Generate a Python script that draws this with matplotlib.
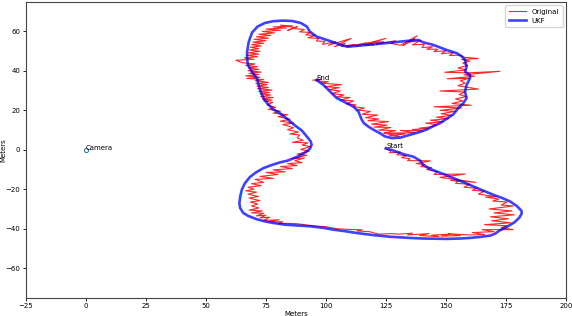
import matplotlib
matplotlib.use("Agg")
import matplotlib.pyplot as plt

# UKF (smoothed) trajectory, metres
ukf_x = [125.0, 129.5, 133, 136.4, 139.2, 140.5, 143, 146.1, 150, 153, 157, 161.4, 165.5, 169.7, 173.5,
         176.7, 179.5, 181.5, 181.5, 180.5, 178.5, 175.5, 172.5, 170.5, 168.5, 164.2, 160, 155.8, 150.3,
         144.7, 140.5, 135, 130.8, 126.7, 120, 112.8, 108, 103, 98.9, 93.3, 87.8, 83, 78, 74.5, 71.1,
         67.5, 65.5, 64.2, 63.9, 64.3, 64.9, 66.2, 68.3, 70.8, 73.9, 77.2, 80.8, 84, 88.5, 91.5, 93.3,
         94, 93.6, 92.3, 89.9, 87.2, 84, 80.5, 78, 75.5, 74, 72.8, 71.9, 71.3, 69.2, 67.5, 67.1, 67.1,
         67.8, 69.2, 71.5, 74.5, 78, 82, 86, 89.5, 92, 93.3, 96.1, 100.3, 104.5, 107, 109.3, 112.8,
         119.7, 126.7, 133.6, 138.5, 140.5, 144.7, 150.3, 154.5, 156.8, 157.9, 158.6, 157.9, 160, 160,
         158.6, 157.9, 158.6, 157.2, 155.1, 153, 150, 147.5, 144.7, 142, 139, 135, 131, 127.5, 124.5,
         122.5, 120, 117.6, 115.8, 114.9, 113.5, 111.4, 107.2, 104.5, 101.7, 98.9, 96.1]
ukf_y = [0.8, -1.0, -2.5, -3.5, -5.5, -7.6, -9.5, -11, -12.8, -14.3, -16.3, -18.6, -20.7, -22.8, -24.5,
         -26.2, -28.5, -31, -32.5, -34.5, -36.8, -39, -40.8, -42.5, -43.5, -44.2, -44.7, -45, -45.2,
         -45.1, -45, -44.7, -44.4, -44.1, -43.3, -42.2, -41.3, -40.5, -39.6, -38.8, -38.4, -38, -37.1,
         -36.3, -35.2, -33.5, -32, -29.5, -27, -23.5, -20.3, -17, -13.8, -11.5, -9.3, -7.8, -6.4, -5.5,
         -3.3, -1.2, 0.5, 2.5, 4.3, 6.3, 9.8, 12.2, 15.5, 18.8, 20.5, 23.5, 26, 29.5, 33, 36.1, 39.5,
         43, 46.2, 49.6, 54.7, 59.5, 62.5, 64.3, 65.2, 65.5, 65.3, 64.3, 62.5, 59.9, 57.4, 55.7, 54,
         52.8, 52.3, 52.7, 53.5, 54.3, 55.2, 55.7, 54.5, 53.2, 50.6, 49, 47.2, 45.6, 42.2, 39.6, 38,
         36.3, 32.9, 29.5, 26.2, 23.6, 21.1, 17.9, 15.5, 13.5, 12, 10.3, 9, 7.6, 6.2, 5.9, 6.8, 8.4,
         10, 11.8, 13.5, 15.2, 19.4, 21.9, 24.5, 26.2, 29.5, 32.9, 35.4]

# Original (noisy) measurements, metres
orig_x = [124.5, 127, 126.5, 131, 129.5, 133.5, 131.5, 135, 134, 143.5, 137.5, 141, 139.5, 144, 142,
          146.5, 145, 158, 147.5, 162.5, 152, 155, 154, 160, 157.5, 163, 161, 166, 163.5, 171, 166.5,
          172, 169.5, 175.5, 173, 178, 168, 177.5, 170, 178.5, 168.5, 176, 169, 177, 166, 175.5, 173,
          178, 165, 170, 161, 166,
          160, 151, 156, 148, 152, 144, 147, 139, 143, 134, 136, 130, 127, 122, 118, 113, 115, 108,
          104, 100, 97, 92, 88,
          84, 80, 82, 76, 80.5, 74, 76.5, 72.5, 75, 71, 74, 69, 73.5, 68, 72, 69, 71.5, 68.5, 72.5, 68,
          71.8, 67.5, 71, 66.5, 70, 67.5, 73, 69, 74, 70.5, 78, 72.5, 80, 75, 83, 78, 86, 81, 88, 84,
          90, 87,
          91, 86, 92, 88, 93, 89.5, 93.5, 90, 92.5, 86, 90.5, 88, 89, 85, 88.5, 84, 86.5, 82, 86.5, 81,
          85, 80, 84, 78, 81, 76, 79, 75.5, 77.8, 74,
          77.5, 73.5, 78, 72.8, 77, 72.5, 76.5, 72, 77.5, 71.5, 76, 71.2, 75.5, 70.8, 76, 70.5, 74, 67,
          72.5, 66.5, 72, 68, 73, 67.5, 72, 67.5, 71.5, 66.5, 70.5, 65, 62.5, 70, 66, 71.5, 67, 72, 67.5,
          72.5, 68, 72, 68.5, 73, 69, 74, 69.5, 75, 70, 76, 71, 77, 72, 78.5, 73.5, 81, 75, 83.5, 78, 86,
          81, 87, 84,
          88, 86.5, 91, 89, 93.5, 91.5, 95.5, 92.5, 97, 96, 99.5, 98.5, 104, 101, 110.5, 103.5, 108,
          106.5, 112, 108.5, 117, 112.5, 125, 116, 120, 118, 124, 121, 129, 127, 131, 138, 132, 137, 134,
          139.5, 136, 141, 140, 144.5, 142, 146.5, 145, 150, 148, 153, 151.5, 156,
          157, 163.5, 156.5, 160, 157, 159, 155, 158.5, 149.5, 159, 172.5, 157.5, 162, 150.5, 159.5, 156,
          158, 155, 163.5, 147.5, 158, 155.5, 158.5, 154, 157, 152.5, 160.5, 145, 156.5, 147.5, 154, 148,
          152.5, 146, 151, 143.5, 149, 141.5, 146,
          144.5, 139, 142.5, 136, 140.5, 131, 137, 124.5, 133, 126.5, 130.5, 124, 129, 122, 127, 120,
          125.5, 119, 126, 117.5, 122, 116.5, 121.5, 115, 118.5, 113, 116, 111.5, 112.5, 108.5, 111.5,
          106, 110, 104.5, 107.5, 102.5, 106, 101, 105.5, 99.5, 106.5, 98, 101, 95.5, 98, 94.5]
orig_y = [0.5, -0.5, -1.5, -1.2, -2.5, -3, -4, -4.5, -5.5, -5.6, -7, -7.5, -8.5, -9, -10, -11.2, -12.5,
          -12.3, -14, -16.5, -15.5, -15.8, -17, -17.5, -19, -19.5, -20.5, -21, -22.5, -23.8, -24, -25,
          -26, -26.5, -28, -28.5, -30, -31, -32, -33, -34, -35, -36, -37, -38, -38.5, -39.5, -40.5,
          -40.5, -41.5, -42, -43,
          -43.2, -42.6, -43.5, -43.8, -42.8, -43.3, -44, -43.5, -42.5, -43.2, -42.3, -42.8, -42.5,
          -42.8, -41.5, -41.2, -40.6, -40.3, -40, -39, -38.8, -38.2, -37.5,
          -37.3, -37.5, -36.5, -36.5, -35.5, -35.8, -34.2, -34.5, -33.2, -33.5, -32.2, -32, -31, -30.6,
          -29.5, -28.5, -27.5, -26.5, -25.8, -24.5, -23.7, -22.5, -21.5, -20.8, -20, -19, -18.2, -17.2,
          -16.5, -15, -14.5, -13.5, -12.5, -11.5, -11.2, -10.2, -9.5, -8.5, -8, -7, -6.5, -5.5,
          -4.2, -4.5, -2.8, -2.2, -0.8, 0.2, 1.6, 2.4, 3.5, 3.8, 4.8, 6, 7.5, 8, 9, 10.2, 11.2, 12.8,
          13.5, 14.5, 15.5, 16.8, 17.8, 18.6, 19.6, 20.5, 21.5, 22.8, 24, 24.8,
          25.2, 25.8, 26.5, 27, 27.8, 28.4, 29, 29.6, 30.3, 31, 31.6, 32.3, 33, 33.6, 34.2, 35, 35.6,
          36.2, 36.8, 37.5, 38.1, 38.8, 39.4, 40.1, 40.8, 41.5, 42.1, 42.8, 43.5, 44.2, 45.4, 45.9, 46.6,
          47.2, 47.9, 48.5, 49.2, 49.9, 50.6, 51.3, 52, 52.6, 53.3, 54, 54.6, 55.3, 56, 56.6, 57.3, 58,
          58.6, 59.3, 60, 60.6, 61.2, 61.8, 62.3, 62.8, 63.2, 62, 60.5,
          62.5, 61.5, 61, 59.8, 59.5, 58.3, 58, 56.8, 56.5, 55.2, 55, 53.5, 54.8, 53, 56.5, 52.3, 54,
          52.5, 53.5, 52.2, 54.3, 52.5, 56.5, 53, 53.2, 54.3, 54.8, 53.6, 55.3, 54, 53, 57.8, 52.8, 56.3,
          54.5, 55.5, 53.2, 53.5, 51.8, 52.3, 51, 51, 49.8, 50.2, 48.7, 49.3, 47.8, 48,
          47, 46.3, 45.8, 45, 44, 42.8, 41.5, 40.5, 39.3, 39, 39.8, 38, 37.3, 36, 36.2, 35, 33.8, 32.5,
          30.8, 29.8, 29.3, 28, 27, 25.8, 24.8, 23.5, 22.6, 21.8, 21.2, 20, 19.5, 18.3, 17.5, 16.5, 15.8,
          15, 14.2, 13.5, 12.8,
          11.8, 11, 10.8, 10.3, 9.6, 9.8, 8.6, 8.5, 8, 7.2, 6.8, 8.5, 9.7, 10, 11.3, 11.5, 12.5, 13,
          14.3, 14.8, 15.6, 16.3, 17.6, 18, 19.4, 20.2, 21.2, 21.8, 22.8, 23.3, 24.8, 25.2, 26.5, 26.8,
          27.8, 28.5, 29.8, 30.5, 31.5, 32, 33, 33.8, 34.5, 35, 35.8, 35.3]

camera_xy = (0, 0)
start_label, end_label, camera_label = "Start", "End", "Camera"
legend_labels = ["Original", "UKF"]

fig = plt.figure(figsize=(5.72, 3.16), dpi=100)
ax = fig.add_axes([0.0455, 0.058, 0.944, 0.936])

ax.plot(orig_x, orig_y, color="red", lw=0.8, alpha=0.85, label=legend_labels[0])
ax.plot(ukf_x, ukf_y, color="blue", lw=1.9, alpha=0.75, label=legend_labels[1])
ax.plot(camera_xy[0], camera_xy[1], "o", ms=3, mfc="none", mec="C0", mew=0.7)

ax.text(camera_xy[0], camera_xy[1], camera_label, fontsize=5)
ax.text(ukf_x[0], ukf_y[0], start_label, fontsize=5)
ax.text(ukf_x[-1], ukf_y[-1], end_label, fontsize=5)

ax.set_xlim(-25, 200)
ax.set_ylim(-75, 75)
ax.set_xticks([-25, 0, 25, 50, 75, 100, 125, 150, 175, 200])
ax.set_yticks([-60, -40, -20, 0, 20, 40, 60])
ax.tick_params(labelsize=5, length=2.5, width=0.6, pad=1.5)
for s in ax.spines.values():
    s.set_linewidth(0.8)
    s.set_color("#444444")
ax.set_xlabel("Meters", fontsize=5, labelpad=1)
ax.set_ylabel("Meters", fontsize=5)
ax.yaxis.set_label_coords(-0.036, 0.5)
ax.legend(loc="upper right", fontsize=5, handlelength=2.5, borderpad=0.5, labelspacing=0.4)

fig.savefig("out.png", dpi=100)
